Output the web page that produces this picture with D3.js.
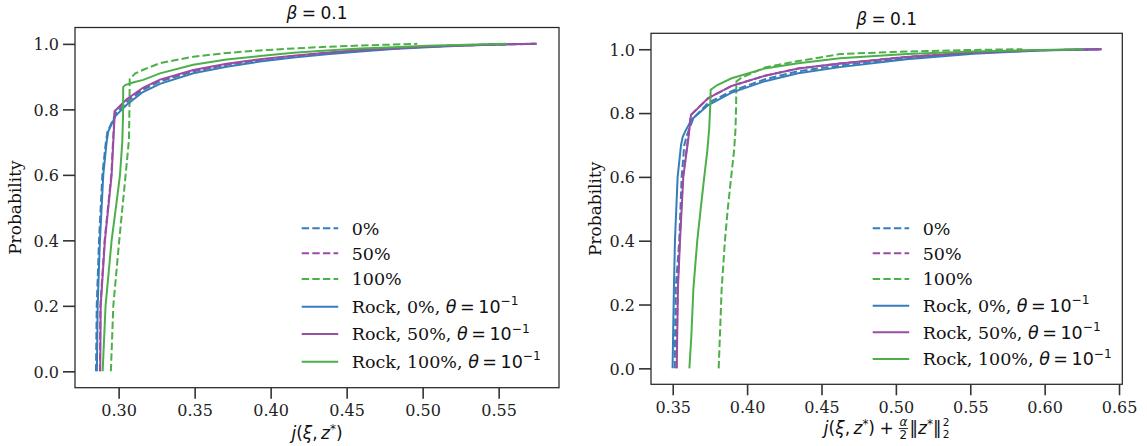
<!DOCTYPE html>
<html><head><meta charset="utf-8">
<script src="https://cdn.jsdelivr.net/npm/d3@7"></script>
<style>body{margin:0;background:#fff}svg{display:block}</style>
</head><body>
<script>
// ---------------- data ----------------
const xTicksLeft = [0.30, 0.35, 0.40, 0.45, 0.50, 0.55];
const xTicksRight = [0.35, 0.40, 0.45, 0.50, 0.55, 0.60, 0.65];
const yTicks = [0.0, 0.2, 0.4, 0.6, 0.8, 1.0];
const legendNames = ["0%", "50%", "100%", "Rock, 0%,", "Rock, 50%,", "Rock, 100%,"];
const titleText = "0.1";

// Left panel: j(xi, z*)
const leftDash0X = [0.2851,0.2856,0.2871,0.2893,0.2916,0.2926,0.2980,0.3053,0.3160,0.3272,0.3491,0.3710,0.3930,0.4150,0.4369,0.4590,0.4807,0.5030,0.5245,0.5500,0.5730];
const leftDash0P = [0,0.20,0.40,0.60,0.70,0.730,0.787,0.822,0.860,0.885,0.916,0.936,0.951,0.962,0.972,0.980,0.987,0.992,0.996,0.999,1.0];
const leftDash50X = [0.2877,0.2880,0.2908,0.2952,0.2963,0.2974,0.3053,0.3160,0.3272,0.3491,0.3710,0.3930,0.4150,0.4369,0.4590,0.4807,0.5030,0.5245,0.5500,0.5740];
const leftDash50P = [0,0.20,0.40,0.60,0.70,0.794,0.829,0.864,0.889,0.918,0.937,0.951,0.962,0.971,0.979,0.986,0.991,0.995,0.998,1.0];
const leftDash100X = [0.2949,0.2965,0.3004,0.3046,0.3068,0.3071,0.3073,0.3110,0.3162,0.3272,0.3491,0.3710,0.3930,0.4150,0.4369,0.4590,0.4807,0.4965];
const leftDash100P = [0,0.20,0.40,0.60,0.707,0.80,0.893,0.910,0.921,0.941,0.961,0.972,0.980,0.986,0.991,0.995,0.998,1.0];
const leftRock0X = [0.2857,0.2862,0.2877,0.2899,0.2921,0.2932,0.2980,0.3053,0.3160,0.3272,0.3491,0.3710,0.3930,0.4150,0.4369,0.4590,0.4807,0.5030,0.5245,0.5500,0.5750];
const leftRock0P = [0,0.20,0.40,0.60,0.70,0.733,0.780,0.814,0.853,0.878,0.910,0.930,0.946,0.958,0.968,0.977,0.984,0.990,0.994,0.998,1.0];
const leftRock50X = [0.2879,0.2882,0.2910,0.2954,0.2965,0.2975,0.3053,0.3160,0.3272,0.3491,0.3710,0.3930,0.4150,0.4369,0.4590,0.4807,0.5030,0.5245,0.5500,0.5750];
const leftRock50P = [0,0.20,0.40,0.60,0.70,0.795,0.831,0.866,0.891,0.920,0.939,0.953,0.964,0.973,0.981,0.987,0.992,0.995,0.998,1.0];
const leftRock100X = [0.2895,0.2914,0.2954,0.2982,0.3009,0.3024,0.3029,0.3030,0.3043,0.3100,0.3162,0.3272,0.3491,0.3710,0.3930,0.4150,0.4369,0.4590,0.4807,0.5030,0.5300,0.5553];
const leftRock100P = [0,0.20,0.40,0.50,0.60,0.70,0.78,0.868,0.874,0.883,0.890,0.910,0.936,0.952,0.963,0.973,0.980,0.986,0.990,0.994,0.997,1.0];

// Right panel: j(xi, z*) + alpha/2 ||z*||^2
const rightDash0X = [0.3513,0.3520,0.3544,0.3560,0.3578,0.3595,0.3640,0.3739,0.3896,0.4120,0.4344,0.4624,0.5072,0.5520,0.5968,0.6370];
const rightDash0P = [0,0.25,0.40,0.60,0.70,0.730,0.785,0.832,0.869,0.906,0.931,0.949,0.972,0.988,0.997,1.0];
const rightDash50X = [0.3525,0.3533,0.3547,0.3569,0.3603,0.3621,0.3739,0.3896,0.4120,0.4344,0.4624,0.5072,0.5520,0.5968,0.6380];
const rightDash50P = [0,0.25,0.40,0.60,0.72,0.794,0.847,0.885,0.917,0.940,0.955,0.976,0.990,0.997,1.0];
const rightDash100X = [0.3809,0.3829,0.3851,0.3870,0.3893,0.3912,0.3922,0.3926,0.3928,0.3960,0.4120,0.4344,0.4624,0.5072,0.5520,0.5850];
const rightDash100P = [0,0.25,0.40,0.50,0.60,0.68,0.75,0.82,0.899,0.910,0.943,0.963,0.985,0.993,0.998,1.0];
const rightRock0X = [0.3499,0.3508,0.3515,0.3533,0.3556,0.3567,0.3583,0.3628,0.3739,0.3896,0.4120,0.4344,0.4624,0.5072,0.5520,0.5968,0.6383];
const rightRock0P = [0,0.25,0.40,0.60,0.70,0.725,0.742,0.780,0.825,0.864,0.900,0.925,0.944,0.969,0.986,0.996,1.0];
const rightRock50X = [0.3527,0.3535,0.3549,0.3571,0.3605,0.3623,0.3739,0.3896,0.4120,0.4344,0.4624,0.5072,0.5520,0.5968,0.6383];
const rightRock50P = [0,0.25,0.40,0.60,0.72,0.794,0.847,0.885,0.917,0.940,0.955,0.976,0.990,0.997,1.0];
const rightRock100X = [0.3612,0.3625,0.3639,0.3665,0.3688,0.3712,0.3732,0.3745,0.3752,0.3755,0.3800,0.3896,0.4120,0.4344,0.4624,0.5072,0.5520,0.5968,0.6259];
const rightRock100P = [0,0.10,0.25,0.40,0.50,0.60,0.68,0.75,0.82,0.873,0.888,0.909,0.940,0.956,0.972,0.985,0.993,0.998,1.0];

// ---------------- style ----------------
const COLORS = ["#377eb8", "#984ea3", "#4daf4a"];
const SERIF = "DejaVu Serif";
const SANS = "DejaVu Sans";
const W = 1147, H = 446;

const svg = d3.select("body").append("svg").attr("width", W).attr("height", H);
const measurer = svg.append("text").attr("visibility", "hidden");
function measure(t, fam, it, fs) {
  measurer.attr("font-family", fam).attr("font-size", fs).attr("font-style", it ? "italic" : "normal").text(t);
  return measurer.node().getComputedTextLength();
}

// rich text helper (mathtext-like)
function rich(parent, pieces, x, y, anchor, size) {
  const g = parent.append("g");
  let cx = 0;
  function txt(t, fam, it, fs, bx, by) {
    const n = g.append("text").attr("x", bx).attr("y", by).text(t)
      .attr("font-family", fam).attr("font-size", fs).attr("fill", "#111")
      .attr("font-style", it ? "italic" : "normal");
    return n.node().getComputedTextLength();
  }
  pieces.forEach(p => {
    if (p.gap !== undefined) { cx += p.gap * size; return; }
    if (p.frac) {
      const fs = size * 0.7;
      const nw = measure(p.frac[0], SANS, true, fs), dw = measure(p.frac[1], SANS, false, fs);
      const w = Math.max(nw, dw) + size * 0.16;
      txt(p.frac[0], SANS, true, fs, cx + (w - nw) / 2, -size * 0.46);
      txt(p.frac[1], SANS, false, fs, cx + (w - dw) / 2, size * 0.30);
      g.append("line").attr("x1", cx + size * 0.04).attr("x2", cx + w - size * 0.04)
        .attr("y1", -size * 0.32).attr("y2", -size * 0.32).attr("stroke", "#111").attr("stroke-width", 0.9);
      cx += w + size * 0.05;
      return;
    }
    if (p.subsup) {
      const fs = size * 0.62;
      const a = txt(p.subsup[0], SANS, false, fs, cx, size * 0.26);
      const b = txt(p.subsup[1], SANS, false, fs, cx, -size * 0.47);
      cx += Math.max(a, b);
      return;
    }
    const fs = size * (p.s || 1);
    const w = txt(p.t, p.f || SANS, !!p.it, fs, cx, -(p.rise || 0) * size);
    cx += w;
  });
  let dx = x;
  if (anchor === "middle") dx = x - cx / 2;
  else if (anchor === "end") dx = x - cx;
  g.attr("transform", `translate(${dx},${y})`);
  return g;
}

function panel(cfg) {
  const x = d3.scaleLinear().domain(cfg.xDomain).range([cfg.x0, cfg.x1]);
  const y = d3.scaleLinear().domain([-0.05, 1.05]).range([cfg.y1, cfg.y0]);
  const g = svg.append("g");

  const line = d3.line().x(d => x(d[0])).y(d => y(d[1]));
  cfg.dashed.forEach((s, i) => {
    g.append("path").datum(d3.zip(s[0], s[1])).attr("d", line)
      .attr("fill", "none").attr("stroke", COLORS[i]).attr("stroke-width", 2)
      .attr("stroke-dasharray", "7.4,3.2");
  });
  cfg.solid.forEach((s, i) => {
    g.append("path").datum(d3.zip(s[0], s[1])).attr("d", line)
      .attr("fill", "none").attr("stroke", COLORS[i]).attr("stroke-width", 2);
  });

  // frame
  g.append("rect").attr("x", cfg.x0).attr("y", cfg.y0).attr("width", cfg.x1 - cfg.x0).attr("height", cfg.y1 - cfg.y0)
    .attr("fill", "none").attr("stroke", "#262626").attr("stroke-width", 1.25);

  // axes
  const xa = g.append("g").attr("transform", `translate(0,${cfg.y1})`)
    .call(d3.axisBottom(x).tickValues(cfg.xTicks).tickFormat(d3.format(".2f")).tickSize(11).tickPadding(6));
  const ya = g.append("g").attr("transform", `translate(${cfg.x0},0)`)
    .call(d3.axisLeft(y).tickValues(yTicks).tickFormat(d3.format(".1f")).tickSize(12).tickPadding(4));
  [xa, ya].forEach(a => {
    a.select(".domain").remove();
    a.selectAll(".tick line").attr("stroke", "#333").attr("stroke-width", 1.6);
    a.selectAll(".tick text").attr("font-family", SERIF).attr("font-size", 16).attr("fill", "#222");
  });
  ya.selectAll(".tick text").attr("dy", "0.36em");

  // y label
  g.append("text").attr("transform", `translate(${cfg.ylabX},${(cfg.y0 + cfg.y1) / 2}) rotate(-90)`)
    .attr("text-anchor", "middle").attr("font-family", SERIF).attr("font-size", 17).attr("fill", "#111")
    .text("Probability");

  // title
  rich(g, [{t: "β", it: true}, {gap: 0.26}, {t: "="}, {gap: 0.26}, {t: titleText}],
    (cfg.x0 + cfg.x1) / 2, cfg.titleY, "middle", 17);

  // x label
  rich(g, cfg.xlabel, (cfg.x0 + cfg.x1) / 2, cfg.xlabY, "middle", 17);

  // legend
  cfg.legendRows.forEach((ry, i) => {
    const ci = i % 3;
    const lg = g.append("line").attr("x1", cfg.legX).attr("x2", cfg.legX + 36.5).attr("y1", ry).attr("y2", ry)
      .attr("stroke", COLORS[ci]).attr("stroke-width", 2);
    if (i < 3) lg.attr("stroke-dasharray", "7.4,3.2");
    if (i < 3) {
      rich(g, [{t: legendNames[i], f: SERIF}], cfg.legX + 50, ry + 6.3, "start", 17.5);
    } else {
      rich(g, [{t: legendNames[i], f: SERIF}, {gap: 0.32}, {t: "θ", it: true}, {gap: 0.2}, {t: "="}, {gap: 0.2},
        {t: "10"}, {t: "−1", s: 0.7, rise: 0.43}], cfg.legX + 50, ry + 6.3, "start", 17.5);
    }
  });
}

const xlabLeft = [{t: "j", it: true}, {t: "("}, {t: "ξ", it: true}, {t: ","}, {gap: 0.2}, {t: "z", it: true},
  {t: "*", s: 0.7, rise: 0.38}, {t: ")"}];
const xlabRight = xlabLeft.concat([{gap: 0.26}, {t: "+"}, {gap: 0.26}, {frac: ["α", "2"]}, {t: "‖"}, {t: "z", it: true},
  {t: "*", s: 0.7, rise: 0.38}, {t: "‖"}, {gap: 0.08}, {subsup: ["2", "2"]}]);

panel({
  x0: 75, x1: 559, y0: 27.5, y1: 387.7, xDomain: [0.2713, 0.5897], xTicks: xTicksLeft,
  dashed: [[leftDash0X, leftDash0P], [leftDash50X, leftDash50P], [leftDash100X, leftDash100P]],
  solid: [[leftRock0X, leftRock0P], [leftRock50X, leftRock50P], [leftRock100X, leftRock100P]],
  ylabX: 21, titleY: 19, xlabY: 439, xlabel: xlabLeft,
  legX: 301.7, legendRows: [228.3, 253.3, 279, 306.7, 334, 361.7]
});
panel({
  x0: 651, x1: 1122.3, y0: 33.3, y1: 384.3, xDomain: [0.3354, 0.6522], xTicks: xTicksRight,
  dashed: [[rightDash0X, rightDash0P], [rightDash50X, rightDash50P], [rightDash100X, rightDash100P]],
  solid: [[rightRock0X, rightRock0P], [rightRock50X, rightRock50P], [rightRock100X, rightRock100P]],
  ylabX: 601, titleY: 25, xlabY: 434, xlabel: xlabRight,
  legX: 872.7, legendRows: [228.3, 253.3, 279, 305.7, 332.3, 359]
});
</script>
</body></html>
